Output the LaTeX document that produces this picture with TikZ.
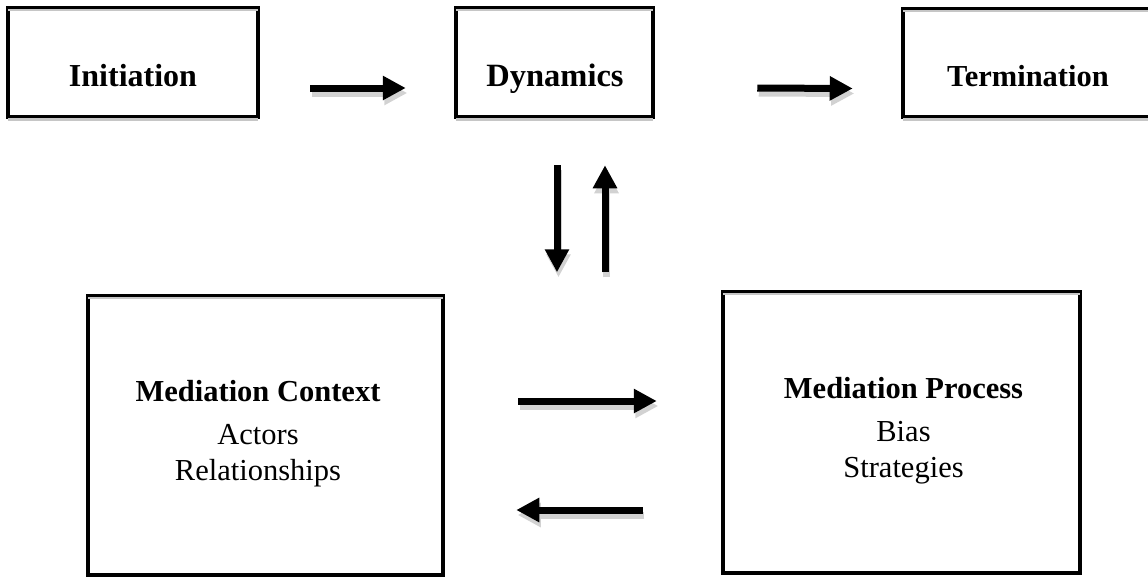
\documentclass[tikz,border=0pt]{standalone}
\usepackage{fontspec}
\setmainfont{Liberation Serif}
\usetikzlibrary{arrows.meta}
\begin{document}
\begin{tikzpicture}[x=1pt,y=-1pt,
  box/.style={draw=black, line width=4.5pt, rectangle, inner sep=0pt},
  strip/.style={draw=gray!45, line width=2pt},
  lbl/.style={font=\fontsize{30.5}{36.6}\selectfont, inner sep=0pt, anchor=base},
  blbl/.style={lbl, font=\fontsize{30.5}{36.6}\selectfont\bfseries},
  bigarrow/.style={line width=7pt, -{Triangle[length=23pt,width=23pt]},
    preaction={draw=gray!35, line width=7pt, -{Triangle[length=23pt,width=23pt]},
      transform canvas={shift={(1.5pt,-5pt)}}}}]
\clip (0,0) rectangle (1148,576);
% top row boxes
\node[box, minimum width=250pt, minimum height=109pt] (init) at (133,62.5) {};
\node[box, minimum width=197pt, minimum height=109pt] (dyn) at (554.5,62.5) {};
\node[box, minimum width=250pt, minimum height=108pt] (term) at (1028,63) {};
\foreach \n in {init,dyn,term}{
  \draw[strip] ([xshift=2.25pt,yshift=-4.5pt]\n.north west) -- ([xshift=-2.25pt,yshift=-4.5pt]\n.north east);
  \draw[strip, line width=3pt] ([xshift=2.25pt]\n.south west) -- ([xshift=-2.25pt]\n.south east);
}
\node[blbl, font=\fontsize{32}{36}\selectfont\bfseries] (tinit) at (133,86) {Initiation};
\node[blbl, font=\fontsize{32.5}{36}\selectfont\bfseries] (tdyn) at (555,86) {Dynamics};
\node[blbl] (tterm) at (1028,86) {Termination};
% bottom boxes
\node[box, minimum width=355pt, minimum height=279pt] (ctx) at (265.5,435.5) {};
\node[box, minimum width=357pt, minimum height=281pt] (proc) at (901.5,432.5) {};
\foreach \n in {ctx,proc}{
  \draw[strip] ([xshift=2.25pt,yshift=-4.5pt]\n.north west) -- ([xshift=-2.25pt,yshift=-4.5pt]\n.north east);
}
\node[blbl] (tctx) at (258,401) {Mediation Context};
\node[lbl] (tctx2) at (258,444) {Actors};
\node[lbl] (tctx3) at (258,480) {Relationships};
\node[blbl] (tproc) at (903.5,398) {Mediation Process};
\node[lbl] (tproc2) at (903.5,441) {Bias};
\node[lbl] (tproc3) at (903.5,477) {Strategies};
% arrows
\draw[bigarrow] ([xshift=50pt,yshift=-25.5pt]init.east) -- ([xshift=-48pt,yshift=-25.5pt]dyn.west);
\draw[bigarrow] ([xshift=102pt,yshift=-25.5pt]dyn.east) -- ([xshift=-48pt,yshift=-25.5pt]term.west);
\draw[bigarrow] ([xshift=2.5pt,yshift=-46pt]dyn.south) -- ([xshift=2.5pt,yshift=-153pt]dyn.south);
\draw[bigarrow] ([xshift=50.5pt,yshift=-153pt]dyn.south) -- ([xshift=50.5pt,yshift=-46pt]dyn.south);
\draw[bigarrow] ([xshift=73pt,yshift=34.5pt]ctx.east) -- ([xshift=-64pt,yshift=31.5pt]proc.west);
\draw[bigarrow] ([xshift=-78pt,yshift=-77.5pt]proc.west) -- ([xshift=71pt,yshift=-74.5pt]ctx.east);
\end{tikzpicture}
\end{document}
